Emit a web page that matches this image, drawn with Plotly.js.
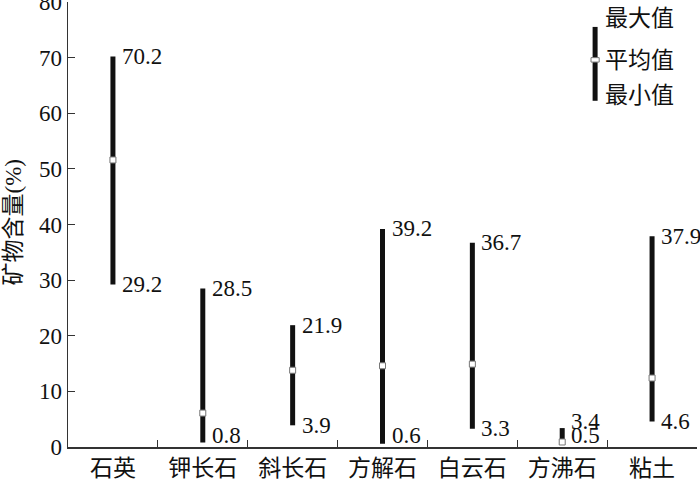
<!DOCTYPE html>
<html>
<head>
<meta charset="utf-8">
<script src="https://cdn.plot.ly/plotly-3.0.1.min.js"></script>
<style>html,body{margin:0;padding:0;background:#fff;}#chart{width:700px;height:483px;}</style>
</head>
<body>
<div id="chart"></div>
<script>
const categories = ["石英", "钾长石", "斜长石", "方解石", "白云石", "方沸石", "粘土"];
const maxValues = [70.2, 28.5, 21.9, 39.2, 36.7, 3.4, 37.9];
const minValues = [29.2, 0.8, 3.9, 0.6, 3.3, 0.5, 4.6];
const meanValues = [51.6, 6.1, 13.8, 14.6, 14.9, 0.9, 12.4];
const legendLabels = ["最大值", "平均值", "最小值"];
const yTitle = "矿物含量(%)";

const FONT = "'Liberation Serif', 'Times New Roman', 'Noto Sans CJK SC', serif";

const barX = [], barY = [];
categories.forEach((c, i) => {
  barX.push(c, c, null);
  barY.push(minValues[i], maxValues[i], null);
});

const traces = [
  {
    type: "scatter", mode: "lines", x: barX, y: barY,
    line: { color: "#111", width: 5 }, hoverinfo: "skip", showlegend: false
  },
  {
    type: "scatter", mode: "markers", x: categories, y: meanValues,
    marker: { symbol: "square", size: 6, color: "#fff", line: { color: "#777", width: 1 } },
    showlegend: false
  }
];

const annotations = [];
categories.forEach((c, i) => {
  const minLab = Math.max(minValues[i], 2.0);
  const maxLab = Math.max(maxValues[i], minLab + 2.6);
  annotations.push({
    x: c, y: maxLab, xref: "x", yref: "y", text: maxValues[i].toFixed(1),
    showarrow: false, xanchor: "left", yanchor: "middle", xshift: 7,
    font: { family: FONT, size: 23, color: "#111" }
  });
  annotations.push({
    x: c, y: minLab, xref: "x", yref: "y", text: minValues[i].toFixed(1),
    showarrow: false, xanchor: "left", yanchor: "middle", xshift: 7,
    font: { family: FONT, size: 23, color: "#111" }
  });
});

// legend (key) drawn in paper coordinates
const legX = 0.838;
const legYs = [0.962, 0.869, 0.790];
legendLabels.forEach((t, k) => {
  annotations.push({
    x: legX, y: legYs[k], xref: "paper", yref: "paper", text: t,
    showarrow: false, xanchor: "left", yanchor: "middle", xshift: 8,
    font: { family: FONT, size: 23, color: "#111" }
  });
});
annotations.push({
  x: 0, y: 0.5, xref: "paper", yref: "paper", text: yTitle, textangle: -90,
  showarrow: false, xanchor: "center", yanchor: "middle", xshift: -55, yshift: 2,
  font: { family: FONT, size: 23, color: "#111" }
});

const shapes = [
  { type: "line", xref: "paper", yref: "paper", x0: legX, x1: legX, y0: 0.778, y1: 0.944,
    line: { color: "#111", width: 5 } },
  { type: "rect", xref: "paper", yref: "paper", x0: legX - 0.0065, x1: legX + 0.0065,
    y0: 0.865, y1: 0.875, fillcolor: "#fff", line: { color: "#777", width: 1 } }
];

const layout = {
  width: 700, height: 483,
  margin: { l: 68, r: 3, t: 2, b: 36 },
  paper_bgcolor: "#fff", plot_bgcolor: "#fff",
  showlegend: false,
  font: { family: FONT, color: "#111" },
  xaxis: {
    type: "category", categoryorder: "array", categoryarray: categories,
    range: [-0.5, 6.5], tickson: "boundaries", ticks: "inside", ticklen: 7,
    tickcolor: "#333", tickwidth: 1.2, showline: true, linecolor: "#333", linewidth: 1.5,
    showgrid: false, zeroline: false, fixedrange: true,
    tickfont: { family: FONT, size: 23, color: "#111" }
  },
  yaxis: {
    range: [0, 80], dtick: 10, ticks: "inside", ticklen: 7, tickcolor: "#333", tickwidth: 1.2,
    showline: true, linecolor: "#333", linewidth: 1.5, showgrid: false, zeroline: false,
    ticklabeloverflow: "allow",
    fixedrange: true, tickfont: { family: FONT, size: 23, color: "#111" }
  },
  annotations: annotations,
  shapes: shapes
};

Plotly.newPlot("chart", traces, layout, { displayModeBar: false, staticPlot: true });
</script>
</body>
</html>
